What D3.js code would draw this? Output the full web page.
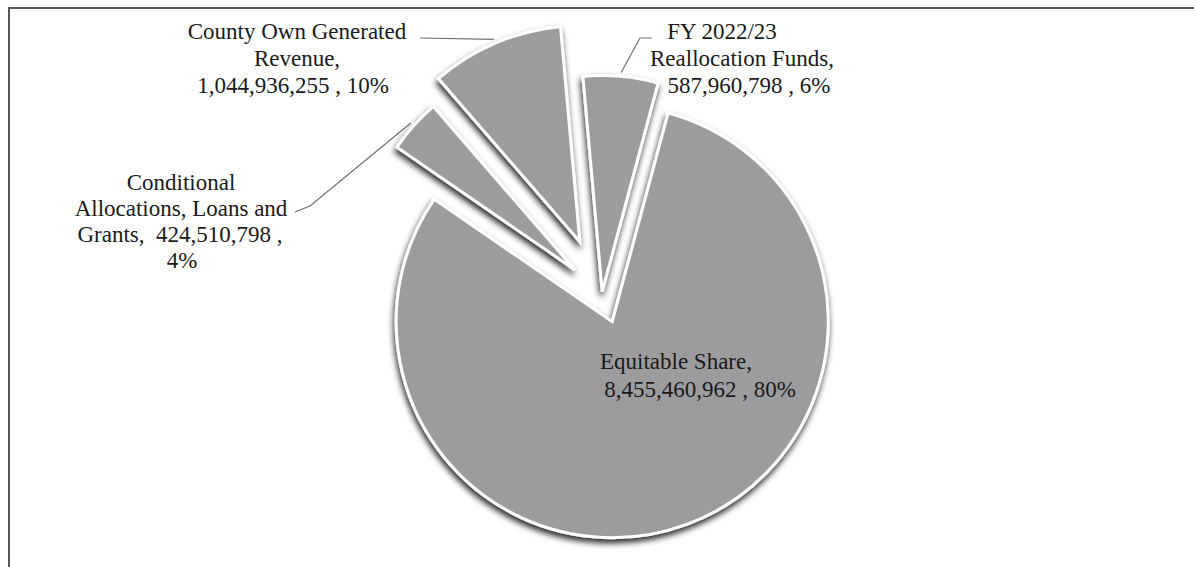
<!DOCTYPE html>
<html>
<head>
<meta charset="utf-8">
<script src="https://cdn.jsdelivr.net/npm/d3@7"></script>
<style>
  body { margin: 0; background: #fff; }
  .lbl { font-family: "Liberation Serif", "Times New Roman", serif; font-size: 23px; fill: #1a1a1a; }
</style>
</head>
<body>
<div id="chart"></div>
<script>
// data
const categories = ["Equitable Share", "Conditional Allocations, Loans and Grants",
  "County Own Generated Revenue", "FY 2022/23 Reallocation Funds"];
const amounts = [8455460962, 424510798, 1044936255, 587960798];
const percents = ["80%", "4%", "10%", "6%"];

// label text, wrapped the way the original does it
const labelLines = [
  ["Equitable Share,", "8,455,460,962 , 80%"],
  ["Conditional", "Allocations, Loans and", "Grants,  424,510,798 ,", "4%"],
  ["County Own Generated", "Revenue,", "1,044,936,255 , 10%"],
  ["FY 2022/23", "Reallocation Funds,", "587,960,798 , 6%"]
];

// layout
const width = 1194, height = 567;
const cx = 602, cy = 294, radius = 216;
const explode = [29.5, 36.5, 56.7, 2.4];
const startDeg = 15;

// label boxes: per-line centre x, first baseline, line height, leader elbow points
const labelPos = [
  { xs: [676, 700], y: 369, lh: 28, leader: null },
  { xs: [181, 181, 180, 182], y: 190, lh: 26, leader: [[310, 206], [295, 212]] },
  { xs: [297, 297, 293], y: 39, lh: 27, leader: [[420, 38]] },
  { xs: [722, 742, 749], y: 39, lh: 27, leader: [[640, 38], [652, 38]] }
];

const svg = d3.select("#chart")
  .append("svg")
  .attr("width", width)
  .attr("height", height);

const defs = svg.append("defs");
const filter = defs.append("filter")
  .attr("id", "shadow")
  .attr("x", "-20%").attr("y", "-20%")
  .attr("width", "140%").attr("height", "140%");
filter.append("feDropShadow")
  .attr("dx", -1).attr("dy", 4)
  .attr("stdDeviation", 3)
  .attr("flood-color", "#000")
  .attr("flood-opacity", 0.85);

// outer frame (only left and top edges are inside the picture)
svg.append("rect")
  .attr("x", 9).attr("y", 8)
  .attr("width", 1300).attr("height", 700)
  .attr("fill", "none")
  .attr("stroke", "#555")
  .attr("stroke-width", 2);

const rad = Math.PI / 180;
const pie = d3.pie().sort(null)
  .startAngle(startDeg * rad)
  .endAngle((startDeg + 360) * rad);
const arcs = pie(amounts);

const arc = d3.arc().innerRadius(0).outerRadius(radius);

// offset of each exploded slice
function shift(d, i) {
  const mid = (d.startAngle + d.endAngle) / 2;
  return [cx + explode[i] * Math.sin(mid), cy - explode[i] * Math.cos(mid)];
}

const drawOrder = [0, 3, 1, 2];
svg.append("g")
  .selectAll("path")
  .data(drawOrder.map(i => ({ d: arcs[i], i: i })))
  .join("path")
  .attr("transform", o => `translate(${shift(o.d, o.i)})`)
  .attr("d", o => arc(o.d))
  .attr("fill", "#9c9c9f")
  .attr("stroke", "#fff")
  .attr("stroke-width", 3)
  .attr("stroke-linejoin", "miter")
  .attr("filter", "url(#shadow)");

// leader lines
arcs.forEach((d, i) => {
  const lp = labelPos[i];
  if (!lp.leader) return;
  const [tx, ty] = shift(d, i);
  const mid = (d.startAngle + d.endAngle) / 2;
  const r = radius + 4;
  const anchor = [tx + r * Math.sin(mid), ty - r * Math.cos(mid)];
  const pts = [anchor].concat(lp.leader);
  svg.append("path")
    .attr("d", d3.line()(pts))
    .attr("fill", "none")
    .attr("stroke", "#6f6f6f")
    .attr("stroke-width", 1.2);
});

// labels
labelLines.forEach((lines, i) => {
  const lp = labelPos[i];
  svg.append("text")
    .attr("class", "lbl")
    .attr("text-anchor", "middle")
    .style("white-space", "pre")
    .selectAll("tspan")
    .data(lines)
    .join("tspan")
    .attr("x", (t, k) => lp.xs[k])
    .attr("y", (t, k) => lp.y + k * lp.lh)
    .text(t => t);
});
</script>
</body>
</html>
